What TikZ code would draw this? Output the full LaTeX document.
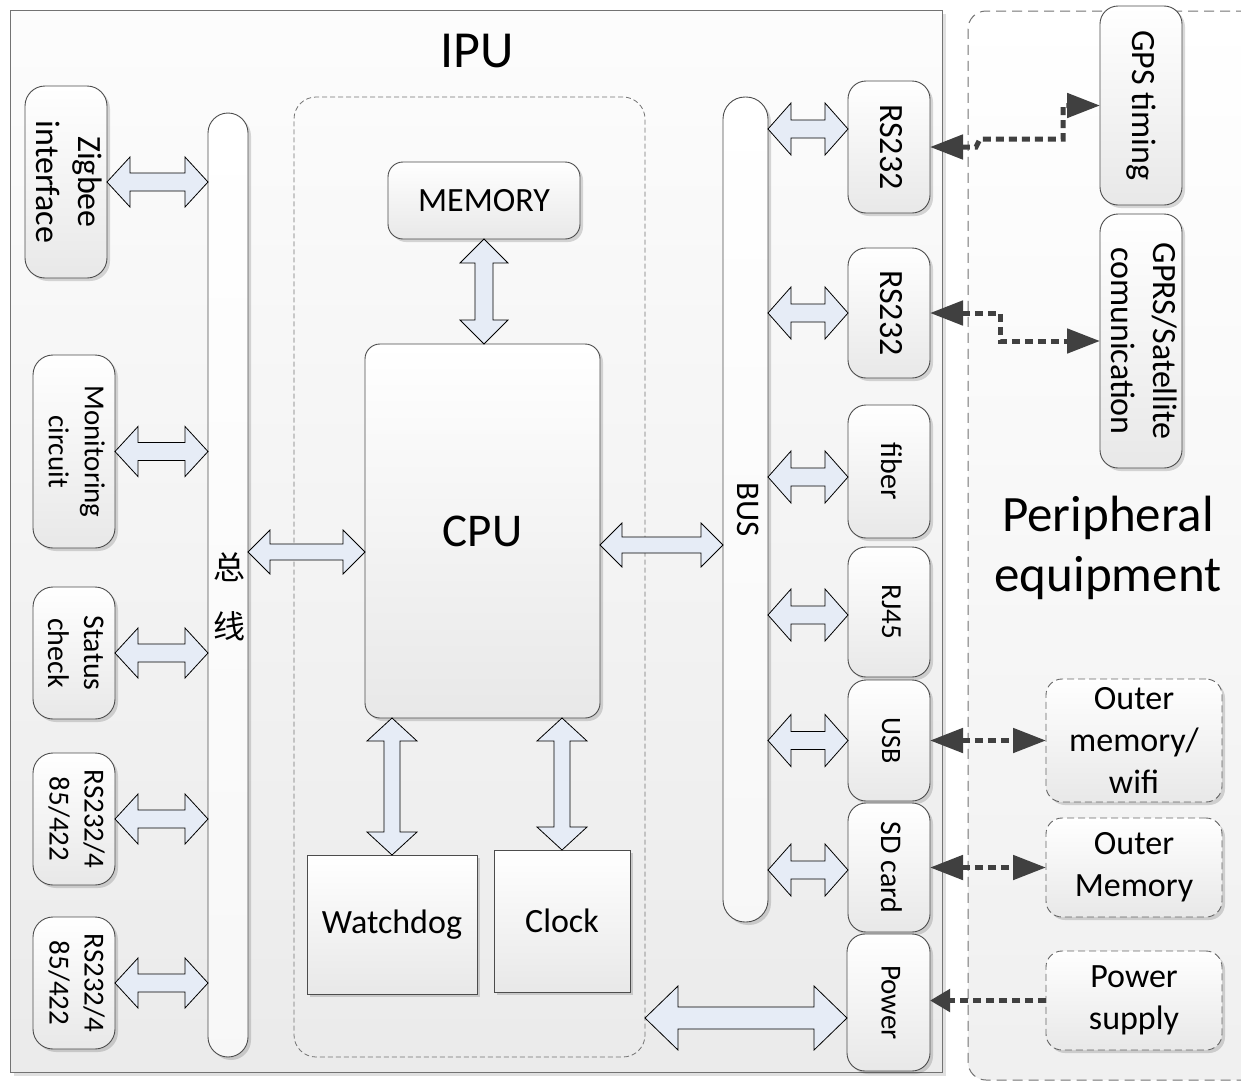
\documentclass[tikz,border=0pt]{standalone}
\usepackage{fontspec}
\usepackage{graphicx}
\setmainfont{Carlito}
\newfontfamily\cjkfont{Noto Sans CJK SC}
\usetikzlibrary{arrows.meta,shadows,fit,calc}

\definecolor{arrowfill}{RGB}{230,236,246}
\definecolor{linkgray}{RGB}{64,64,64}

% text turned a quarter turn clockwise, several lines allowed
\newcommand\vtext[1]{\rotatebox{-90}{\begin{tabular}{@{}c@{}}#1\end{tabular}}}

% horizontal double block arrow: from, to, head length, head half-width, shaft half-width
\newcommand\hblock[5]{%
  \draw[blockarrow] let \p1=#1, \p2=#2 in
    (\x1,\y1) -- ({\x1+#3},{\y1+#4}) -- ({\x1+#3},{\y1+#5}) -- ({\x2-#3},{\y1+#5})
    -- ({\x2-#3},{\y1+#4}) -- (\x2,\y1) -- ({\x2-#3},{\y1-#4}) -- ({\x2-#3},{\y1-#5})
    -- ({\x1+#3},{\y1-#5}) -- ({\x1+#3},{\y1-#4}) -- cycle;}

% vertical double block arrow: upper end, lower end, head length, head half-width, shaft half-width
\newcommand\vblock[5]{%
  \draw[blockarrow] let \p1=#1, \p2=#2 in
    (\x1,\y1) -- ({\x1+#4},{\y1-#3}) -- ({\x1+#5},{\y1-#3}) -- ({\x1+#5},{\y2+#3})
    -- ({\x1+#4},{\y2+#3}) -- (\x1,\y2) -- ({\x1-#4},{\y2+#3}) -- ({\x1-#5},{\y2+#3})
    -- ({\x1-#5},{\y1-#3}) -- ({\x1-#4},{\y1-#3}) -- cycle;}

\tikzset{
  every node/.style={font=\fontsize{34}{42}\selectfont, inner sep=0pt, outer sep=0pt},
  softshadow/.style={drop shadow={shadow xshift=3pt, shadow yshift=-3pt, fill=black, opacity=0.15}},
  box/.style={draw=black!70, line width=0.9pt, rounded corners=16pt,
    top color=white, bottom color=black!9, softshadow},
  flatbox/.style={box, sharp corners},
  dashbox/.style={box, draw=black!60, dash pattern=on 7pt off 4pt},
  busbar/.style={draw=black!70, line width=0.9pt, rounded corners=20pt,
    top color=white, bottom color=black!3, softshadow},
  ipuframe/.style={draw=black!55, line width=1pt, top color=black!1, bottom color=black!8,
    drop shadow={shadow xshift=4pt, shadow yshift=-4pt, fill=black, opacity=0.12}},
  periframe/.style={draw=black!55, line width=1pt, dash pattern=on 10pt off 6pt,
    rounded corners=18pt, top color=white, bottom color=black!6},
  coreframe/.style={draw=black!55, line width=0.8pt, dash pattern=on 5pt off 3pt, rounded corners=22pt},
  blockarrow/.style={draw=black, line width=0.8pt, fill=arrowfill, line join=miter},
  link/.style={draw=linkgray, line width=5pt, dash pattern=on 8pt off 5pt},
  bigtip/.tip={Triangle[length=33pt,width=24pt]},
  smalltip/.tip={Triangle[length=20pt,width=22pt]},
  bigtext/.style={font=\fontsize{52}{60}\selectfont},
  txt/.style={label={[align=center]center:#1}},
  vtxt/.style={label={center:\vtext{#1}}},
  % rotated label with its own size: font size, line spacing, text
  vtxtsz/.style n args={3}{label={[font=\fontsize{#1}{#2}\selectfont]center:\vtext{#3}}},
}

\begin{document}
\begin{tikzpicture}[x=1pt,y=-1pt]
\useasboundingbox (0,0) rectangle (1241,1082);
\clip (0,0) rectangle (1241,1082);
\fill[white] (0,0) rectangle (1241,1082);

% outer areas
\node[periframe, fit={(968,11) (1280,1080)}] (peri) {};
\node[ipuframe, fit={(10,10) (942,1072)}] (ipu) {};
\node[bigtext] (ipulabel) at (477,51) {IPU};
\node[bigtext, align=center, font=\fontsize{51}{60}\selectfont] (perilabel) at (1108,548) {Peripheral\\equipment};

% processor core area
\node[coreframe, fit={(294,97) (645,1057)}] (core) {};
\node[box, rounded corners=15pt, fit={(388,162) (580,239)}, txt=MEMORY] (mem) {};
\node[box, rounded corners=15pt, fit={(365,344) (600,718)},
  label={[font=\fontsize{47}{56}\selectfont]center:CPU}] (cpu) {};
\node[flatbox, fit={(307,855) (477,994)}, txt=Watchdog] (wd) {};
\node[flatbox, fit={(494,850) (630,992)}, txt=Clock] (clk) {};

% buses
\node[busbar, fit={(208,113) (248,1057)}] (lbus) {};
\node[font=\cjkfont\fontsize{32}{59}\selectfont, align=center] (lbuslabel) at (229,597) {总\\线};
\node[busbar, rounded corners=22pt, fit={(723,97) (768,922)}, vtxtsz={33}{40}{BUS}] (rbus) {};

% left interfaces
\node[box, rounded corners=20pt, fit={(25,86) (107,278)}, vtxt={Zigbee\\interface}] (zig) {};
\node[box, rounded corners=20pt, fit={(33,355) (115,548)}, vtxtsz={29}{36}{Monitoring\\circuit}] (mon) {};
\node[box, rounded corners=20pt, fit={(33,587) (115,719)}, vtxtsz={30}{36}{Status\\check}] (stat) {};
\node[box, rounded corners=20pt, fit={(33,753) (115,885)}, vtxtsz={29}{35}{RS232/4\\85/422}] (serA) {};
\node[box, rounded corners=20pt, fit={(33,917) (115,1049)}, vtxtsz={29}{35}{RS232/4\\85/422}] (serB) {};

% right interfaces
\node[box, rounded corners=18pt, fit={(848,81) (930,213)}, vtxt=RS232] (rsA) {};
\node[box, rounded corners=18pt, fit={(848,248) (930,378)}, vtxt=RS232] (rsB) {};
\node[box, rounded corners=18pt, fit={(848,405) (930,538)}, vtxtsz={30}{36}{fiber}] (fib) {};
\node[box, rounded corners=18pt, fit={(848,547) (930,677)}, vtxtsz={29}{35}{RJ45}] (rj) {};
\node[box, rounded corners=18pt, fit={(848,680) (930,801)}, vtxtsz={28}{34}{USB}] (usb) {};
\node[box, rounded corners=18pt, fit={(848,803) (930,932)}, vtxtsz={30}{36}{SD card}] (sd) {};
\node[box, rounded corners=18pt, fit={(847,934) (930,1071)}, vtxtsz={29}{35}{Power}] (pw) {};

% peripheral equipment
\node[box, rounded corners=18pt, fit={(1100,6) (1182,205)}, vtxt={GPS timing}] (gps) {};
\node[box, rounded corners=18pt, fit={(1100,214) (1182,468)}, vtxt={GPRS/Satellite\\comunication}] (gprs) {};
\node[dashbox, fit={(1046,679) (1222,802)}, txt={Outer\\memory/\\wifi}] (omw) {};
\node[dashbox, fit={(1046,818) (1222,917)}, txt={Outer\\Memory}] (om) {};
\node[dashbox, fit={(1046,951) (1222,1050)}, txt={Power\\supply}] (ps) {};

% block arrows, left side
\hblock{(zig.east)}{(zig.east -| lbus.west)}{23pt}{25pt}{9pt}
\hblock{(mon.east)}{(mon.east -| lbus.west)}{23pt}{25pt}{9pt}
\hblock{(stat.east)}{(stat.east -| lbus.west)}{23pt}{25pt}{9pt}
\hblock{(serA.east)}{(serA.east -| lbus.west)}{23pt}{25pt}{9pt}
\hblock{(serB.east)}{(serB.east -| lbus.west)}{23pt}{25pt}{9pt}
\hblock{(lbus.east |- 0,552)}{(cpu.west |- 0,552)}{22pt}{22pt}{8pt}

% block arrows, core
\vblock{(mem.south)}{(mem.south |- cpu.north)}{24pt}{24pt}{9pt}
\vblock{(cpu.south -| wd.north)}{(wd.north)}{23pt}{25pt}{8pt}
\vblock{(cpu.south -| clk.north)}{(clk.north)}{23pt}{25pt}{8pt}
\hblock{(cpu.east |- 0,545)}{(rbus.west |- 0,545)}{22pt}{22pt}{8pt}

% block arrows, right side
\hblock{(rbus.east |- 0,129)}{(rsA.west |- 0,129)}{23pt}{26pt}{9pt}
\hblock{(rbus.east |- rsB.west)}{(rsB.west)}{23pt}{26pt}{9pt}
\hblock{(rbus.east |- 0,477)}{(fib.west |- 0,477)}{23pt}{26pt}{9pt}
\hblock{(rbus.east |- 0,615)}{(rj.west |- 0,615)}{23pt}{26pt}{9pt}
\hblock{(rbus.east |- usb.west)}{(usb.west)}{23pt}{26pt}{9pt}
\hblock{(rbus.east |- 0,870)}{(sd.west |- 0,870)}{23pt}{26pt}{9pt}
\hblock{(core.east |- 0,1018)}{(pw.west |- 0,1018)}{33pt}{32pt}{11pt}

% links to peripheral equipment
\draw[link, bigtip-bigtip] (rsA.east) -- ++(46,0) -- ++(4,-8) -- ++(83,0) |- (gps.west);
\draw[link, bigtip-bigtip] (rsB.east) -- ++(70,0) |- (gprs.west);
\draw[link, bigtip-bigtip] (usb.east) -- (usb.east -| omw.west);
\draw[link, bigtip-bigtip] (sd.east) -- (sd.east -| om.west);
\draw[link, -smalltip] (ps.west) -- (ps.west -| pw.east);
\end{tikzpicture}
\end{document}
